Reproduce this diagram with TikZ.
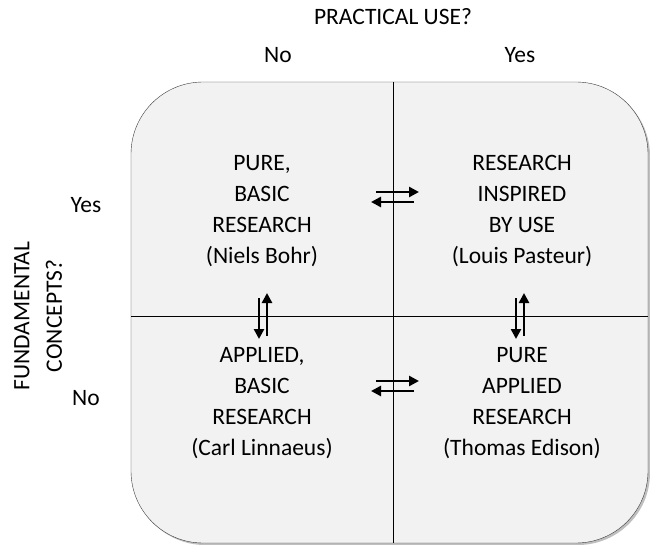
\documentclass[tikz,border=0pt]{standalone}
\usepackage{fontspec}
\setmainfont{Carlito}
\usepackage{xcolor}
\usepackage{tikz}
\usetikzlibrary{arrows.meta}

\definecolor{boxfill}{HTML}{F2F2F2}
\definecolor{boxline}{HTML}{3A3A3A}

\tikzset{
    celltext/.style={align=center, font=\fontsize{23.5}{31}\selectfont, text=black},
    axistext/.style={font=\fontsize{23.5}{27}\selectfont, text=black},
    flow/.style={line width=2.6pt, -{Triangle[length=10pt, width=10pt]}}
}

\begin{document}
\begin{tikzpicture}[x=1pt, y=-1pt]
        \useasboundingbox (0,0) rectangle (650,545);

        % shadow and box
        \fill[black!25, rounded corners=72pt] (133,84) rectangle (650,545);
        \draw[boxline, fill=boxfill, rounded corners=72pt] (131,82) rectangle (648,543);

        \coordinate (top) at (393,82);
        \coordinate (bottom) at (393,543);
        \coordinate (left) at (131,316);
        \coordinate (right) at (648,316);
        \draw[black, line width=1pt] (top) -- (bottom);
        \draw[black, line width=1pt] (left) -- (right);

        % axis labels
        \node[axistext] (practical) at (393,17) {PRACTICAL USE?};
        \node[axistext] (useno) at (278,55) {No};
        \node[axistext] (useyes) at (520,55) {Yes};
        \node[axistext] (fundyes) at (86,205) {Yes};
        \node[axistext] (fundno) at (86,398) {No};
        \node[axistext, rotate=90] (fundamental) at (22,316) {FUNDAMENTAL};
        \node[axistext, rotate=90] (concepts) at (54,316) {CONCEPTS?};

        % quadrants
        \node[celltext] (bohr) at (262,211) {PURE,\\BASIC\\RESEARCH\\(Niels Bohr)};
        \node[celltext] (pasteur) at (522,211) {RESEARCH\\INSPIRED\\BY USE\\(Louis Pasteur)};
        \node[celltext] (linnaeus) at (262,403) {APPLIED,\\BASIC\\RESEARCH\\(Carl Linnaeus)};
        \node[celltext] (edison) at (522,403) {PURE\\APPLIED\\RESEARCH\\(Thomas Edison)};

        % arrows between quadrants
        \coordinate (tl1) at (376,192);
        \coordinate (tr1) at (419,192);
        \coordinate (tl2) at (371,202);
        \coordinate (tr2) at (414,202);
        \draw[flow] (tl1) -- (tr1);
        \draw[flow] (tr2) -- (tl2);

        \coordinate (bl1) at (376,381);
        \coordinate (br1) at (419,381);
        \coordinate (bl2) at (371,391);
        \coordinate (br2) at (414,391);
        \draw[flow] (bl1) -- (br1);
        \draw[flow] (br2) -- (bl2);

        \coordinate (lu1) at (259,298);
        \coordinate (ld1) at (259,339);
        \coordinate (lu2) at (267,336);
        \coordinate (ld2) at (267,293);
        \draw[flow] (lu1) -- (ld1);
        \draw[flow] (lu2) -- (ld2);

        \coordinate (ru1) at (516,298);
        \coordinate (rd1) at (516,339);
        \coordinate (ru2) at (524,336);
        \coordinate (rd2) at (524,293);
        \draw[flow] (ru1) -- (rd1);
        \draw[flow] (ru2) -- (rd2);
    \end{tikzpicture}
\end{document}
